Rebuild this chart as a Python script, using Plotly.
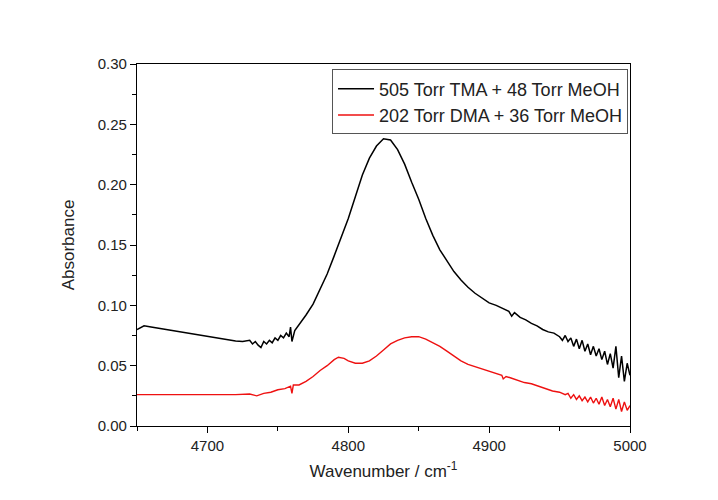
import plotly.graph_objects as go

# TMA + MeOH spectrum (black)
tma_x = [4650, 4655, 4660, 4665, 4670, 4675, 4680, 4685, 4690, 4695, 4700, 4705, 4710, 4715, 4720, 4725,
         4730, 4732, 4734, 4736, 4738, 4740, 4742, 4744, 4746, 4748, 4750, 4752, 4754, 4756, 4758, 4759, 4760, 4762, 4764,
         4770, 4775, 4780, 4785, 4790, 4795, 4800, 4805, 4810, 4815, 4820, 4825, 4830, 4835, 4840, 4845, 4850,
         4855, 4860, 4865, 4870, 4875, 4880, 4885, 4890, 4895, 4900, 4905, 4910, 4914, 4916, 4918, 4922, 4926, 4930,
         4934, 4938, 4942, 4946, 4950, 4952, 4954, 4956, 4958, 4960, 4962, 4964, 4966, 4968, 4970, 4972, 4974,
         4976, 4978, 4980, 4982, 4984, 4986, 4988, 4990, 4992, 4994, 4996, 4998, 5000]
tma_y = [0.080, 0.083, 0.082, 0.081, 0.080, 0.079, 0.078, 0.077, 0.076, 0.075, 0.074, 0.073, 0.072, 0.071, 0.0705, 0.070,
         0.071, 0.068, 0.070, 0.067, 0.065, 0.070, 0.068, 0.071, 0.069, 0.073, 0.071, 0.075, 0.073, 0.077, 0.074, 0.082, 0.070, 0.079, 0.082,
         0.092, 0.101, 0.113, 0.126, 0.141, 0.157, 0.172, 0.190, 0.208, 0.222, 0.232, 0.238, 0.237, 0.229, 0.217, 0.202, 0.188,
         0.172, 0.158, 0.146, 0.137, 0.128, 0.121, 0.115, 0.110, 0.106, 0.102, 0.100, 0.097, 0.095, 0.091, 0.094, 0.090, 0.088, 0.085,
         0.083, 0.080, 0.078, 0.077, 0.074, 0.071, 0.075, 0.070, 0.073, 0.066, 0.072, 0.064, 0.071, 0.062, 0.068, 0.059, 0.066,
         0.058, 0.064, 0.055, 0.062, 0.051, 0.060, 0.048, 0.066, 0.040, 0.058, 0.037, 0.052, 0.042]

# DMA + MeOH spectrum (red)
dma_x = [4650, 4660, 4670, 4680, 4690, 4700, 4710, 4720, 4730, 4735, 4740, 4745, 4750, 4755, 4759, 4760, 4761, 4765,
         4770, 4775, 4780, 4785, 4790, 4793, 4797, 4800, 4805, 4810, 4815, 4820, 4825, 4830, 4835, 4840, 4845,
         4850, 4855, 4860, 4865, 4870, 4875, 4880, 4885, 4890, 4895, 4900, 4905, 4909, 4910, 4912, 4915, 4920,
         4925, 4930, 4935, 4940, 4945, 4950, 4954, 4956, 4958, 4960, 4962, 4964, 4966, 4968, 4970, 4972, 4974,
         4976, 4978, 4980, 4982, 4984, 4986, 4988, 4990, 4992, 4994, 4996, 4998, 5000]
dma_y = [0.026, 0.026, 0.0262, 0.026, 0.0258, 0.026, 0.0262, 0.026, 0.0265, 0.025, 0.027, 0.028, 0.030, 0.031, 0.033, 0.027, 0.034, 0.034,
         0.037, 0.041, 0.046, 0.050, 0.055, 0.057, 0.056, 0.054, 0.052, 0.052, 0.054, 0.058, 0.063, 0.068, 0.071, 0.073, 0.074,
         0.074, 0.072, 0.069, 0.066, 0.062, 0.058, 0.054, 0.051, 0.049, 0.047, 0.045, 0.043, 0.042, 0.039, 0.041, 0.040, 0.038,
         0.036, 0.035, 0.033, 0.031, 0.029, 0.028, 0.026, 0.027, 0.023, 0.026, 0.022, 0.025, 0.021, 0.024, 0.020, 0.024, 0.019,
         0.023, 0.018, 0.024, 0.017, 0.022, 0.016, 0.023, 0.014, 0.022, 0.012, 0.020, 0.013, 0.017]

series_names = ["505 Torr TMA + 48 Torr MeOH", "202 Torr DMA + 36 Torr MeOH"]
x_ticks = [4700, 4800, 4900, 5000]
y_ticks = [0.00, 0.05, 0.10, 0.15, 0.20, 0.25, 0.30]

FONT = "Arial, Liberation Sans, sans-serif"

fig = go.Figure()
fig.add_trace(go.Scatter(x=tma_x, y=tma_y, mode="lines", name=series_names[0],
                         line=dict(color="black", width=1.5)))
fig.add_trace(go.Scatter(x=dma_x, y=dma_y, mode="lines", name=series_names[1],
                         line=dict(color="#ee1111", width=1.4)))

axis_common = dict(showline=True, linecolor="black", linewidth=1.2, mirror=True,
                   showgrid=False, zeroline=False, ticks="outside", ticklen=6,
                   tickcolor="black", tickfont=dict(family=FONT, size=15, color="#222"))

fig.update_xaxes(range=[4650, 5000], tickvals=x_ticks, **axis_common,
                 minor=dict(ticks="outside", ticklen=4, tickcolor="black", tick0=4650, dtick=50),
                 title=dict(text="Wavenumber / cm<sup>-1</sup>", font=dict(family=FONT, size=17, color="#222"), standoff=12))
fig.update_yaxes(range=[0, 0.30], tickvals=y_ticks, tickformat=".2f", **axis_common,
                 minor=dict(ticks="outside", ticklen=4, tickcolor="black", tick0=0, dtick=0.025),
                 title=dict(text="Absorbance", font=dict(family=FONT, size=17, color="#222"), standoff=18))

fig.update_layout(
    width=718, height=500,
    margin=dict(l=137, r=88, t=64, b=74),
    paper_bgcolor="white", plot_bgcolor="white",
    showlegend=True,
    legend=dict(x=0.996, xanchor="right", y=0.985, yanchor="top",
                bordercolor="#555", borderwidth=1, bgcolor="white",
                font=dict(family=FONT, size=18, color="#222"),
                tracegroupgap=0, itemwidth=36),
)

fig.write_html("out.html")
